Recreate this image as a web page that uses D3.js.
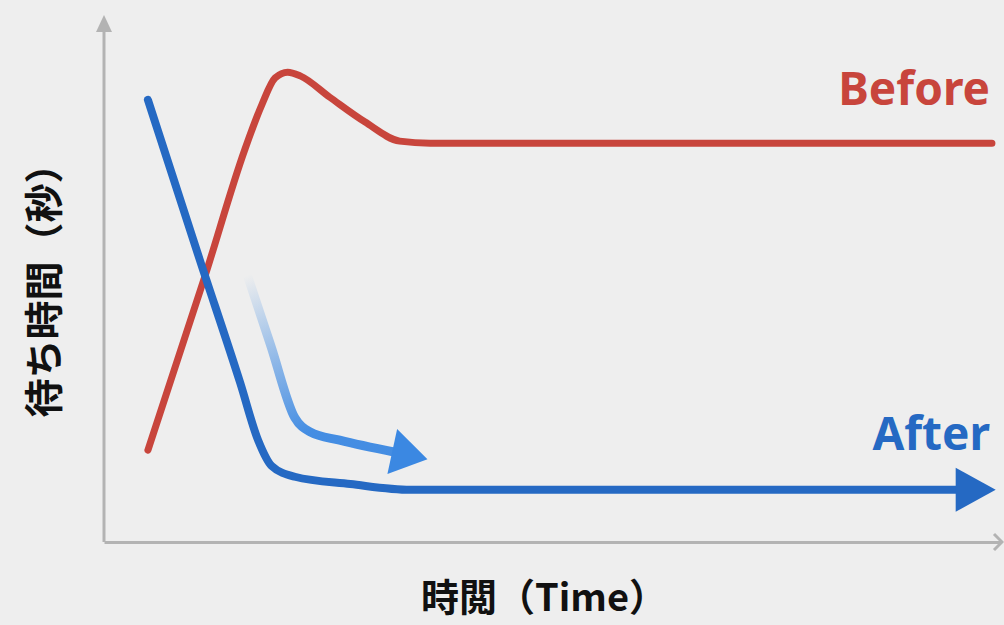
<!DOCTYPE html>
<html>
<head>
<meta charset="utf-8">
<script src="https://cdn.jsdelivr.net/npm/d3@7"></script>
<style>
  html, body { margin: 0; padding: 0; background: #eeeeee; }
  svg { display: block; }
</style>
</head>
<body>
<script>
'use strict';

// data (time 0..100, waiting time 0..100)
var beforeTime  = [4.9, 11.3, 15.7, 17.6, 19.1, 20.5, 21.9, 25.2, 29.1, 33.0, 36.4, 99.1];
var beforeValue = [17.6, 51.1, 75.1, 83.7, 88.9, 90.0, 89.3, 85.2, 80.5, 76.8, 76.4, 76.4];

var afterTime  = [4.9, 10.7, 15.2, 17.2, 18.7, 21.3, 27.5, 34.2, 95.5];
var afterValue = [84.7, 54.0, 30.5, 19.5, 14.6, 12.5, 11.1, 10.0, 10.0];

// the faded "improvement" arrow
var trendTime  = [16.0, 18.6, 21.3, 23.0, 26.3, 32.5];
var trendValue = [51.1, 37.7, 23.8, 21.1, 19.5, 17.2];

var seriesLabels = ['Before', 'After'];
var xLabel = '時閲（Time）';
var yLabel = '待ち時間（秒）';

var width = 1004, height = 625;
var margin = {top: 20, right: 4, bottom: 83, left: 104};

var xScale = d3.scaleLinear().domain([0, 100]).range([margin.left, width - margin.right]);
var yScale = d3.scaleLinear().domain([0, 100]).range([height - margin.bottom, margin.top]);

var svg = d3.select('body').append('svg')
    .attr('width', width)
    .attr('height', height);

svg.append('rect').attr('width', width).attr('height', height).attr('fill', '#eeeeee');

var axisColor = '#b3b3b3';

// axes, no ticks
var yAxis = svg.append('g')
    .attr('transform', 'translate(' + margin.left + ',0)')
    .call(d3.axisLeft(yScale).tickValues([]).tickSizeOuter(0));
var xAxis = svg.append('g')
    .attr('transform', 'translate(0,' + (height - margin.bottom) + ')')
    .call(d3.axisBottom(xScale).tickValues([]).tickSizeOuter(0));
svg.selectAll('.domain').attr('stroke', axisColor).attr('stroke-width', 3);

// y axis arrow on top
var yTop = yScale.range()[1];
yAxis.select('.domain').attr('d', 'M0,' + yScale.range()[0] + 'V' + (yTop + 10));
svg.append('path')
    .attr('d', 'M' + (margin.left - 8) + ',' + (yTop + 12) + 'L' + margin.left + ',' + (yTop - 5) +
               'L' + (margin.left + 8) + ',' + (yTop + 12) + 'Z')
    .attr('fill', axisColor);

// x axis arrow (open chevron, cut at the edge)
var xEnd = xScale.range()[1], xAxY = height - margin.bottom;
svg.append('path')
    .attr('d', 'M' + (xEnd - 6) + ',' + (xAxY - 8) + 'L' + (xEnd + 2) + ',' + xAxY + 'L' + (xEnd - 6) + ',' + (xAxY + 8))
    .attr('fill', 'none')
    .attr('stroke', axisColor)
    .attr('stroke-width', 3);

var line = d3.line()
    .x(function(d) { return xScale(d[0]); })
    .y(function(d) { return yScale(d[1]); })
    .curve(d3.curveMonotoneX);

var redColor = '#c8453c', blueColor = '#2569c3', lightBlue = '#3b88e2';

var beforeData = d3.zip(beforeTime, beforeValue);
var afterData = d3.zip(afterTime, afterValue);
var trendData = d3.zip(trendTime, trendValue);

// faded trend arrow with gradient
var defs = svg.append('defs');
var grad = defs.append('linearGradient')
    .attr('id', 'trendGrad')
    .attr('gradientUnits', 'userSpaceOnUse')
    .attr('x1', xScale(trendTime[0])).attr('y1', yScale(trendValue[0]))
    .attr('x2', xScale(trendTime[3])).attr('y2', yScale(trendValue[3]));
grad.append('stop').attr('offset', '0%').attr('stop-color', lightBlue).attr('stop-opacity', 0);
grad.append('stop').attr('offset', '55%').attr('stop-color', lightBlue).attr('stop-opacity', 0.55);
grad.append('stop').attr('offset', '100%').attr('stop-color', lightBlue).attr('stop-opacity', 0.95);

svg.append('path')
    .datum(trendData)
    .attr('d', line)
    .attr('fill', 'none')
    .attr('stroke', 'url(#trendGrad)')
    .attr('stroke-width', 9);

// arrow head helper
function arrowHead(x0, y0, x1, y1, len, half, color) {
    var a = Math.atan2(y1 - y0, x1 - x0);
    var bx = x1 - len * Math.cos(a), by = y1 - len * Math.sin(a);
    var px = -Math.sin(a) * half, py = Math.cos(a) * half;
    svg.append('path')
        .attr('d', 'M' + (bx + px) + ',' + (by + py) + 'L' + x1 + ',' + y1 + 'L' + (bx - px) + ',' + (by - py) + 'Z')
        .attr('fill', color);
}

var tLast = trendData[trendData.length - 1], tPrev = trendData[trendData.length - 2];
var tx1 = xScale(tLast[0]), ty1 = yScale(tLast[1]);
var ang = Math.atan2(ty1 - yScale(tPrev[1]), tx1 - xScale(tPrev[0]));
arrowHead(tx1 - Math.cos(ang), ty1 - Math.sin(ang), tx1 + 33 * Math.cos(ang), ty1 + 33 * Math.sin(ang), 36, 23, lightBlue);

// before line
svg.append('path')
    .datum(beforeData)
    .attr('d', line)
    .attr('fill', 'none')
    .attr('stroke', redColor)
    .attr('stroke-width', 7)
    .attr('stroke-linecap', 'round');

// after line
svg.append('path')
    .datum(afterData)
    .attr('d', line)
    .attr('fill', 'none')
    .attr('stroke', blueColor)
    .attr('stroke-width', 8)
    .attr('stroke-linecap', 'round');

var aLast = afterData[afterData.length - 1];
var ax = xScale(aLast[0]), ay = yScale(aLast[1]);
arrowHead(ax - 1, ay, ax + 36, ay, 40, 22, blueColor);

// series labels
svg.append('text')
    .attr('x', 990).attr('y', 105)
    .attr('text-anchor', 'end')
    .attr('font-family', '"Noto Sans", sans-serif')
    .attr('font-weight', 700)
    .attr('font-size', 46)
    .attr('fill', redColor)
    .text(seriesLabels[0]);

svg.append('text')
    .attr('x', 990).attr('y', 450)
    .attr('text-anchor', 'end')
    .attr('font-family', '"Noto Sans", sans-serif')
    .attr('font-weight', 700)
    .attr('font-size', 46)
    .attr('fill', blueColor)
    .text(seriesLabels[1]);

// axis titles
svg.append('text')
    .attr('x', 544).attr('y', 611)
    .attr('text-anchor', 'middle')
    .attr('font-family', '"Noto Sans CJK JP", sans-serif')
    .attr('font-weight', 700)
    .attr('font-size', 38)
    .attr('fill', '#111')
    .text(xLabel);

svg.append('text')
    .attr('transform', 'translate(58,281) rotate(-90)')
    .attr('text-anchor', 'middle')
    .attr('font-family', '"Noto Sans CJK JP", sans-serif')
    .attr('font-weight', 700)
    .attr('font-size', 39)
    .attr('fill', '#111')
    .text(yLabel);
</script>
</body>
</html>
